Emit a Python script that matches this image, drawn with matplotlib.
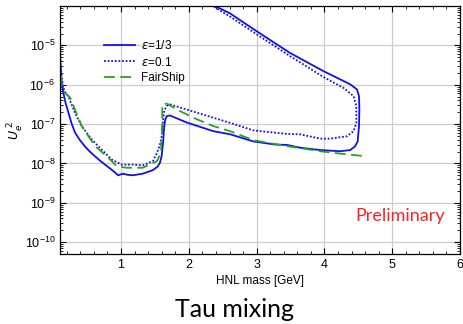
import numpy as np
from matplotlib import pyplot as plt
from matplotlib.ticker import LogLocator, MultipleLocator, NullFormatter

plt.rcParams['font.family'] = ['Liberation Sans', 'DejaVu Sans']

# epsilon = 1/3 (solid), traced as one contour
eps13_mass = [0.10, 0.112, 0.125, 0.149, 0.18, 0.223, 0.27, 0.32, 0.39, 0.469, 0.54,
              0.617, 0.69, 0.764, 0.84, 0.912, 0.956, 1.03, 1.10, 1.18, 1.32, 1.47,
              1.54, 1.575, 1.60, 1.62, 1.635, 1.65, 1.674, 1.72, 1.97, 2.36, 2.61,
              2.95, 3.27, 3.45, 3.64, 3.94, 4.23, 4.38, 4.45, 4.49, 4.51, 4.515,
              4.51, 4.48, 4.38, 4.18, 3.98, 3.49, 3.0, 2.61, 2.41, 2.37]
eps13_logU = [-5.23, -5.70, -5.94, -6.20, -6.45, -6.70, -6.98, -7.21, -7.40, -7.57,
              -7.70, -7.82, -7.93, -8.03, -8.13, -8.23, -8.30, -8.26, -8.29, -8.30,
              -8.26, -8.17, -8.08, -7.98, -7.80, -7.47, -7.10, -6.90, -6.80, -6.78,
              -6.96, -7.18, -7.26, -7.44, -7.52, -7.53, -7.60, -7.66, -7.69, -7.66,
              -7.57, -7.44, -7.05, -6.63, -6.29, -6.12, -5.99, -5.82, -5.65, -5.19,
              -4.64, -4.19, -4.02, -3.96]

# epsilon = 0.1 (dotted)
eps01_mass = [0.10, 0.112, 0.125, 0.149, 0.18, 0.223, 0.27, 0.32, 0.42, 0.568, 0.715,
              0.863, 1.01, 1.18, 1.32, 1.47, 1.53, 1.57, 1.60, 1.62, 1.64, 1.674,
              1.72, 2.12, 2.61, 2.95, 3.45, 3.64, 3.94, 4.08, 4.33, 4.43, 4.47,
              4.47, 4.43, 4.28, 3.98, 3.49, 3.0, 2.61, 2.39, 2.34]
eps01_logU = [-5.18, -5.55, -5.81, -6.08, -6.20, -6.29, -6.50, -6.71, -7.05, -7.39,
              -7.65, -7.90, -8.03, -8.03, -8.05, -7.94, -7.73, -7.55, -7.31, -6.90,
              -6.65, -6.54, -6.50, -6.71, -6.97, -7.16, -7.25, -7.26, -7.37, -7.37,
              -7.31, -7.18, -6.97, -6.54, -6.29, -6.08, -5.80, -5.27, -4.72, -4.27,
              -4.04, -3.96]

# FairShip (dashed)
fs_mass = [0.10, 0.125, 0.17, 0.25, 0.32, 0.42, 0.617, 0.81, 0.937, 1.084, 1.32,
           1.53, 1.59, 1.605, 1.61, 1.674, 1.87, 2.12, 2.36, 2.61, 2.95, 3.45,
           3.94, 4.23, 4.62]
fs_logU = [-5.36, -6.04, -6.20, -6.33, -6.63, -7.05, -7.56, -7.85, -8.07, -8.11,
           -8.11, -7.94, -7.72, -7.14, -6.50, -6.48, -6.67, -6.88, -7.05, -7.18,
           -7.41, -7.56, -7.69, -7.75, -7.82]

blue = '#1010f0'
green = '#2aa31a'

fig = plt.figure(figsize=(4.63, 3.24), dpi=100)
ax = fig.add_axes([0.1296, 0.216, 0.864, 0.7655])

ax.plot(eps13_mass, 10**np.array(eps13_logU), color=blue, lw=1.3, label=r'$\epsilon$=1/3')
ax.plot(eps01_mass, 10**np.array(eps01_logU), color=blue, lw=1.3, ls=(0, (1, 1)),
        label=r'$\epsilon$=0.1')
ax.plot(fs_mass, 10**np.array(fs_logU), color=green, lw=1.3, ls=(0, (6, 3)),
        label='FairShip')

ax.set_yscale('log')
ax.set_xlim(0.1, 6)
ax.set_ylim(5e-11, 1e-4)
ax.xaxis.set_major_locator(MultipleLocator(1))
ax.xaxis.set_minor_locator(MultipleLocator(0.2))
ax.yaxis.set_major_locator(LogLocator(base=10, numticks=20))
ax.yaxis.set_minor_locator(LogLocator(base=10, subs=np.arange(2, 10), numticks=20))
ax.yaxis.set_minor_formatter(NullFormatter())
ax.set_yticks([1e-10, 1e-9, 1e-8, 1e-7, 1e-6, 1e-5])
ax.set_xticks([1, 2, 3, 4, 5, 6])
ax.tick_params(which='both', direction='in', top=True, right=True, labelsize=9)
ax.tick_params(which='major', length=4, width=0.8)
ax.tick_params(which='minor', length=2, width=0.6)
ax.grid(True, which='major', color='#cccccc', lw=0.9)
ax.set_axisbelow(True)
for sp in ax.spines.values():
    sp.set_linewidth(0.9)

ax.set_xlabel('HNL mass [GeV]', fontsize=8.5, labelpad=3)
ax.set_ylabel(r'$U_e^{\ 2}$', fontsize=9, labelpad=2)
ax.yaxis.set_label_coords(-0.085, 0.5)

ax.legend(loc='upper left', bbox_to_anchor=(0.09, 0.9), frameon=False, fontsize=8.5,
          handlelength=2.6, labelspacing=0.3, borderpad=0.2, handletextpad=0.5)

ax.text(0.9625, 0.153, 'Preliminary', color='#ff2020', fontsize=13, ha='right',
        va='center', transform=ax.transAxes, family='Lato')

fig.text(0.507, 0.045, 'Tau mixing', fontsize=18, ha='center', va='center',
         family='Lato')

fig.savefig('out.png', dpi=100)
